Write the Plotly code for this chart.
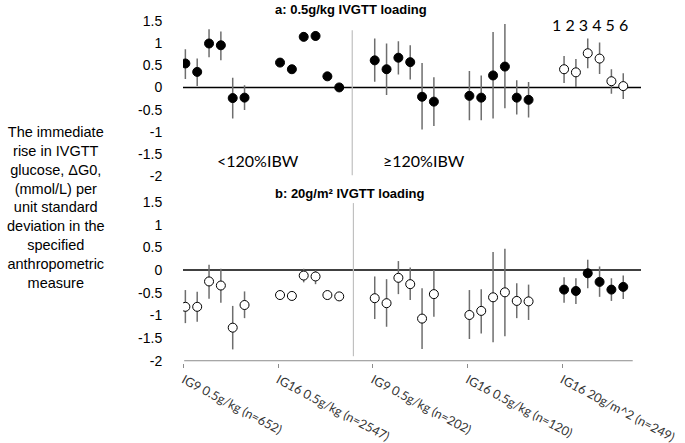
import plotly.graph_objects as go

# ---------------- data ----------------
groups = ["IG9 0.5g/kg (n=652)", "IG16 0.5g/kg (n=2547)", "IG9 0.5g/kg (n=202)",
          "IG16 0.5g/kg (n=120)", "IG16 20g/m^2 (n=249)"]
measures = ["1", "2", "3", "4", "5", "6"]

# panel a: 0.5 g/kg loading
a_val = [0.54, 0.35, 0.99, 0.95, -0.24, -0.23,
         0.56, 0.41, 1.14, 1.16, 0.25, 0.00,
         0.61, 0.41, 0.67, 0.57, -0.21, -0.32,
         -0.19, -0.23, 0.27, 0.47, -0.23, -0.28,
         0.41, 0.34, 0.77, 0.65, 0.14, 0.03]
a_hi = [0.86, 0.65, 1.31, 1.26, 0.22, 0.05,
        0.60, 0.45, 1.25, 1.27, 0.29, 0.04,
        1.10, 0.99, 1.04, 0.95, 0.55, 0.23,
        0.37, 0.27, 1.25, 1.43, 0.16, 0.12,
        0.71, 0.64, 1.10, 1.01, 0.41, 0.32]
a_lo = [0.19, 0.03, 0.68, 0.61, -0.70, -0.51,
        0.52, 0.37, 1.04, 1.05, 0.21, -0.04,
        0.13, -0.17, 0.29, 0.18, -0.95, -0.87,
        -0.74, -0.74, -0.70, -0.47, -0.61, -0.68,
        0.10, 0.01, 0.43, 0.30, -0.14, -0.26]
a_filled = [True, True, True, True, False]

# panel b: 20 g/m^2 loading
b_val = [-0.81, -0.81, -0.25, -0.34, -1.27, -0.77,
         -0.55, -0.57, -0.12, -0.14, -0.55, -0.58,
         -0.62, -0.73, -0.17, -0.31, -1.07, -0.53,
         -0.99, -0.90, -0.60, -0.49, -0.68, -0.69,
         -0.43, -0.46, -0.07, -0.26, -0.43, -0.37]
b_hi = [-0.44, -0.48, 0.12, 0.03, -0.79, -0.47,
        -0.51, -0.53, 0.03, 0.00, -0.51, -0.54,
        -0.14, -0.20, 0.20, 0.06, -0.40, 0.00,
        -0.44, -0.42, 0.40, 0.47, -0.29, -0.32,
        -0.16, -0.18, 0.23, 0.08, -0.18, -0.12]
b_lo = [-1.17, -1.14, -0.63, -0.72, -1.75, -1.06,
        -0.59, -0.61, -0.27, -0.31, -0.59, -0.62,
        -1.08, -1.25, -0.53, -0.66, -1.74, -1.03,
        -1.52, -1.40, -1.59, -1.46, -1.06, -1.10,
        -0.72, -0.75, -0.40, -0.59, -0.68, -0.64]
b_filled = [False, False, False, False, True]

ytick_vals = [1.5, 1, 0.5, 0, -0.5, -1, -1.5, -2]
ytick_text = ["1.5", "1", "0.5", "0", "-0.5", "-1", "-1.5", "-2"]

# ---------------- layout geometry ----------------
W, H = 685, 443
L, R = 182.9, 43.5
T, B = 11.8, 80.0
PW, PH = W - L - R, H - T - B


def py(p):
    return (H - B - p) / PH


def px(p):
    return (p - L) / PW


SLOT = 8  # positions per group
xs = [g * SLOT + i + 1 for g in range(len(groups)) for i in range(len(measures))]

fig = go.Figure()


def add_panel(vals, hi, lo, filled, xa, ya):
    for fill in (True, False):
        idx = [k for k in range(len(vals)) if filled[k // len(measures)] == fill]
        if not idx:
            continue
        fig.add_trace(go.Scatter(
            x=[xs[k] for k in idx], y=[vals[k] for k in idx],
            mode="markers", xaxis=xa, yaxis=ya, showlegend=False,
            hoverinfo="skip",
            marker=dict(size=9, color="black" if fill else "white",
                        line=dict(color="black", width=1)),
            error_y=dict(type="data", symmetric=False,
                         array=[hi[k] - vals[k] for k in idx],
                         arrayminus=[vals[k] - lo[k] for k in idx],
                         color="#6e6e6e", thickness=1.5, width=0),
        ))


add_panel(a_val, a_hi, a_lo, a_filled, "x", "y")
add_panel(b_val, b_hi, b_lo, b_filled, "x2", "y2")

xrange = [0.8, 39.5]
tickx = [g * SLOT + 0.85 for g in range(len(groups))]
common_y = dict(tickvals=ytick_vals, ticktext=ytick_text, showgrid=False,
                zeroline=False, showline=False, ticks="outside", ticklen=17,
                tickcolor="rgba(0,0,0,0)",
                tickfont=dict(family="Liberation Sans, Arial", size=14, color="black"))

top_dom = [py(180.5), 1]
bot_dom = [0, py(193)]

fig.update_layout(
    width=W, height=H, margin=dict(l=L, r=R, t=T, b=B, autoexpand=False),
    paper_bgcolor="white", plot_bgcolor="white",
    xaxis=dict(domain=[0, 1], range=xrange, showticklabels=False, showgrid=False,
               zeroline=False, showline=False, ticks="", anchor="y"),
    yaxis=dict(domain=top_dom, range=[-2.1, 1.7], anchor="x", **common_y),
    xaxis2=dict(domain=[0, 1], range=xrange, showgrid=False, zeroline=False,
                showline=False, tickvals=tickx, ticktext=groups, tickangle=28,
                ticks="outside", ticklen=4, tickcolor="#8c8c8c", anchor="y2",
                tickfont=dict(family="Lato, Open Sans", size=12.5, color="#333333")),
    yaxis2=dict(domain=bot_dom, range=[-2.05, 1.7], anchor="x2", **common_y),
)

# zero lines, bottom axis line, separators
shapes = [
    dict(type="line", xref="x", yref="y", x0=0.8, x1=39.5, y0=0, y1=0,
         line=dict(color="black", width=1.5), layer="below"),
    dict(type="line", xref="x2", yref="y2", x0=0.8, x1=39.5, y0=0, y1=0,
         line=dict(color="black", width=1.5), layer="below"),
    dict(type="line", xref="x2", yref="y2", x0=0.9, x1=38.8, y0=-2, y1=-2,
         line=dict(color="#8c8c8c", width=1), layer="below"),
    dict(type="line", xref="x", yref="y", x0=15.1, x1=15.1, y0=1.29, y1=-1.98,
         line=dict(color="#c0c0c0", width=1.2), layer="below"),
    dict(type="line", xref="x2", yref="y2", x0=15.2, x1=15.2, y0=1.48, y1=-1.9,
         line=dict(color="#c0c0c0", width=1.2), layer="below"),
]
fig.update_layout(shapes=shapes)


def note(text, x, y, size, family, **kw):
    return dict(text=text, x=px(x), y=py(y), xref="paper", yref="paper",
                showarrow=False, xanchor="center", yanchor="middle",
                font=dict(family=family, size=size, color="black"), **kw)


ARIAL = "Liberation Sans, Arial"
CAL = "Lato, Open Sans"
ann = [
    note("<b>a: 0.5g/kg IVGTT loading</b>", 351, 9, 13, ARIAL),
    note("<b>b: 20g/m² IVGTT loading</b>", 350, 193, 13, ARIAL),
    note(" ".join(measures), 590, 24, 16, CAL),
    note("<120%IBW", 258, 160, 16, CAL),
    note("≥120%IBW", 424, 160, 16, CAL),
    note("The immediate<br>rise in IVGTT<br>glucose, ΔG0,<br>(mmol/L) per<br>unit standard"
         "<br>deviation in the<br>specified<br>anthropometric<br>measure",
         56, 207.5, 14.5, ARIAL, align="center"),
]
fig.update_layout(annotations=ann)

fig.write_html("out.html", config={"displayModeBar": False},
               post_script="document.body.style.margin='0';")
